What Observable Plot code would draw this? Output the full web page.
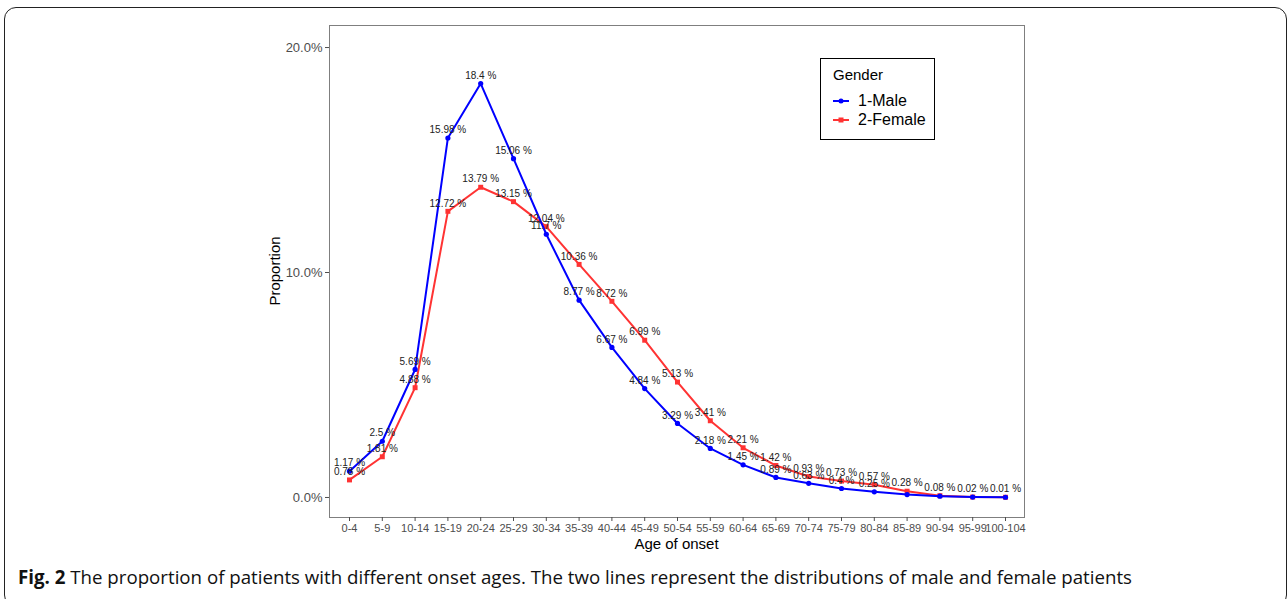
<!DOCTYPE html>
<html>
<head>
<meta charset="utf-8">
<script src="https://cdn.jsdelivr.net/npm/d3@7"></script>
<script src="https://cdn.jsdelivr.net/npm/@observablehq/plot@0.6"></script>
<style>
  html, body { margin: 0; padding: 0; background: #fff; }
  body { width: 1288px; height: 599px; position: relative; overflow: hidden; font-family: "Liberation Sans", Arial, sans-serif; }
  #frame { position: absolute; left: 4px; top: 7px; width: 1283px; height: 600px; border: 1.5px solid #222; border-radius: 12px; box-sizing: border-box; }
  #chart { position: absolute; left: 0; top: 0; }
  #legend { position: absolute; left: 820px; top: 58px; width: 115px; height: 82px; border: 1px solid #000; box-sizing: border-box; background: #fff; }
  #legend .title { position: absolute; left: 12px; top: 7px; font-size: 15px; color: #000; }
  #legend .item { position: absolute; left: 12px; font-size: 16px; color: #000; display: flex; align-items: center; }
  #legend .item svg { margin-right: 9px; }
  #caption { position: absolute; left: 18px; top: 564px; white-space: nowrap; font-family: "Open Sans", "Liberation Sans", sans-serif; color: #111; }
  #caption b { font-weight: 700; }
</style>
</head>
<body>
<div id="frame"></div>
<div id="chart"></div>
<div id="legend">
  <div class="title">Gender</div>
  <div class="item" style="top:33px"><svg width="16" height="8"><line x1="0" y1="4" x2="16" y2="4" stroke="#0000ff" stroke-width="2"/><circle cx="8" cy="4" r="2.5" fill="#0000ff"/></svg>1-Male</div>
  <div class="item" style="top:52px"><svg width="16" height="8"><line x1="0" y1="4" x2="16" y2="4" stroke="#ff3333" stroke-width="2"/><rect x="5.5" y="1.5" width="5" height="5" fill="#ff3333"/></svg>2-Female</div>
</div>
<div id="caption"><b>Fig. 2</b> The proportion of patients with different onset ages. The two lines represent the distributions of male and female patients</div>
<script>
// Age-of-onset groups (x axis)
const ageGroups = ["0-4","5-9","10-14","15-19","20-24","25-29","30-34","35-39","40-44","45-49","50-54","55-59","60-64","65-69","70-74","75-79","80-84","85-89","90-94","95-99","100-104"];
// Proportion of patients (%) in each onset group
const maleValues   = [1.17, 2.5, 5.69, 15.98, 18.4, 15.06, 11.7, 8.77, 6.67, 4.84, 3.29, 2.18, 1.45, 0.89, 0.63, 0.4, 0.25, 0.13, 0.06, 0.02, 0.01];
const femaleValues = [0.78, 1.81, 4.88, 12.72, 13.79, 13.15, 12.04, 10.36, 8.72, 6.99, 5.13, 3.41, 2.21, 1.42, 0.93, 0.73, 0.57, 0.28, 0.08, 0.02, 0.01];
// Which groups carry a printed value label
const maleLabelled   = ageGroups.map((g, i) => i < 17);
const femaleLabelled = ageGroups.map(() => true);
const yTicks = [0, 10, 20];

const colors = { "1-Male": "#0000ff", "2-Female": "#ff3333" };

const rows = [];
ageGroups.forEach((g, i) => {
  rows.push({ age: g, gender: "1-Male", value: maleValues[i], labelled: maleLabelled[i] });
});
ageGroups.forEach((g, i) => {
  rows.push({ age: g, gender: "2-Female", value: femaleValues[i], labelled: femaleLabelled[i] });
});
const male = rows.filter((d) => d.gender === "1-Male");
const female = rows.filter((d) => d.gender === "2-Female");
const labelled = rows.filter((d) => d.labelled);

const chart = Plot.plot({
  width: 1288,
  height: 560,
  marginLeft: 329,
  marginRight: 264,
  marginTop: 25,
  marginBottom: 43,
  style: { fontFamily: "Liberation Sans, Arial, sans-serif", background: "transparent" },
  x: { type: "point", domain: ageGroups, range: [349, 1005], padding: 0, round: false },
  y: { domain: [-0.89, 20.98] },
  marks: [
    Plot.frame({ stroke: "#7f7f7f", strokeWidth: 1 }),
    Plot.axisY({ ticks: yTicks, tickFormat: (d) => d.toFixed(1) + "%", tickSize: 4, tickPadding: 3, stroke: "#4d4d4d", fill: "#4d4d4d", fontSize: 13, label: null }),
    Plot.axisX({ tickSize: 4, tickPadding: 3, stroke: "#4d4d4d", fill: "#4d4d4d", fontSize: 11, label: null }),
    // female series underneath, male series on top
    Plot.lineY(female, { x: "age", y: "value", stroke: colors["2-Female"], strokeWidth: 2 }),
    Plot.dot(female, { x: "age", y: "value", symbol: "square", r: 2.8, fill: colors["2-Female"], stroke: null }),
    Plot.lineY(male, { x: "age", y: "value", stroke: colors["1-Male"], strokeWidth: 2 }),
    Plot.dot(male, { x: "age", y: "value", r: 2.6, fill: colors["1-Male"], stroke: null }),
    Plot.text(labelled, { x: "age", y: "value", text: (d) => d.value + " %", dy: -8, fontSize: 10, fill: "#222" })
  ]
});
document.getElementById("chart").appendChild(chart);

// Axis titles
const svg = d3.select(chart);
svg.append("text")
  .attr("x", (329 + 1024) / 2).attr("y", 549)
  .attr("text-anchor", "middle")
  .attr("font-size", 15).attr("fill", "#000")
  .text("Age of onset");
svg.append("text")
  .attr("transform", `translate(280,${(25 + 517) / 2}) rotate(-90)`)
  .attr("text-anchor", "middle")
  .attr("font-size", 15).attr("fill", "#000")
  .text("Proportion");

// Fit the caption to its line width
const cap = document.getElementById("caption");
cap.style.fontSize = "20px";
const w = cap.getBoundingClientRect().width;
cap.style.fontSize = (20 * 1115 / w).toFixed(2) + "px";
</script>
</body>
</html>
